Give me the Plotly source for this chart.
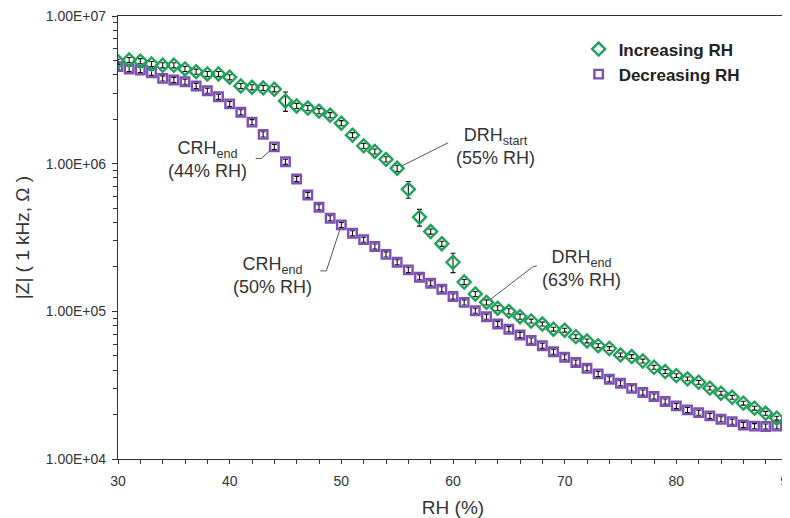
import plotly.graph_objects as go

# ---- data ----
rh = list(range(30, 91))

inc_z = [4.9e6, 5.04e6, 4.95e6, 4.73e6, 4.64e6, 4.64e6, 4.38e6, 4.2e6, 4.05e6, 4.05e6,
         3.85e6, 3.36e6, 3.29e6, 3.26e6, 3.19e6, 2.66e6, 2.46e6, 2.38e6, 2.27e6, 2.13e6,
         1.88e6, 1.56e6, 1.32e6, 1.21e6, 1.07e6, 9.3e5, 6.7e5, 4.34e5, 3.47e5, 2.87e5,
         2.15e5, 1.58e5, 1.31e5, 1.15e5, 1.05e5, 1.0e5, 9.2e4, 8.6e4, 8.2e4, 7.57e4,
         7.45e4, 6.74e4, 6.3e4, 5.85e4, 5.6e4, 5.07e4, 4.94e4, 4.61e4, 4.18e4, 3.91e4,
         3.67e4, 3.49e4, 3.31e4, 3.02e4, 2.79e4, 2.62e4, 2.39e4, 2.21e4, 2.04e4, 1.89e4,
         1.84e4]

dec_z = [4.54e6, 4.38e6, 4.31e6, 4.13e6, 3.78e6, 3.69e6, 3.59e6, 3.36e6, 3.12e6, 2.84e6,
         2.54e6, 2.23e6, 1.91e6, 1.58e6, 1.30e6, 1.03e6, 7.87e5, 6.14e5, 5.07e5, 4.27e5,
         3.85e5, 3.38e5, 3.06e5, 2.75e5, 2.43e5, 2.15e5, 1.91e5, 1.70e5, 1.55e5, 1.41e5,
         1.26e5, 1.15e5, 1.01e5, 9.2e4, 8.2e4, 7.57e4, 6.92e4, 6.34e4, 5.85e4, 5.33e4,
         4.89e4, 4.5e4, 4.12e4, 3.77e4, 3.47e4, 3.26e4, 3.01e4, 2.82e4, 2.65e4, 2.45e4,
         2.29e4, 2.15e4, 2.06e4, 1.96e4, 1.86e4, 1.79e4, 1.70e4, 1.67e4, 1.66e4, 1.67e4,
         1.70e4]

# error bar sizes, percent of value
inc_err_pct = [4, 4, 4, 4, 4, 4, 4, 4, 4, 4,
               4, 4, 4, 4, 4, 15, 4, 4, 4, 4,
               4, 4, 4, 4, 4, 5, 13, 13, 4, 4,
               15, 4, 4, 4, 4, 4, 4, 3, 3, 3,
               3, 3, 3, 3, 3, 3, 3, 3, 3, 3,
               3, 3, 3, 3, 3, 3, 3, 3, 3, 3,
               3]
dec_err_pct = [4] * 61

y_tickvals = [1e4, 1e5, 1e6, 1e7]
y_ticktext = ["1.00E+04", "1.00E+05", "1.00E+06", "1.00E+07"]
x_tickvals = [30, 40, 50, 60, 70, 80, 90]

inc_err = [v * p / 100 for v, p in zip(inc_z, inc_err_pct)]
dec_err = [v * p / 100 for v, p in zip(dec_z, dec_err_pct)]

GREEN = "#22a15a"
PURPLE = "#7d4eb6"
TXT = "#333333"
FONT = "Liberation Sans, Arial, sans-serif"

fig = go.Figure()
fig.add_trace(go.Scatter(
    x=rh, y=dec_z, mode="markers", name="Decreasing RH",
    marker=dict(symbol="square-open", size=8.5, color=PURPLE, line=dict(width=2.4, color=PURPLE)),
    error_y=dict(type="data", array=dec_err, color="#111111", thickness=1.1, width=2.5),
    legendrank=2,
))
fig.add_trace(go.Scatter(
    x=rh, y=inc_z, mode="markers", name="Increasing RH",
    marker=dict(symbol="diamond-open", size=10, color=GREEN, line=dict(width=2.4, color=GREEN)),
    error_y=dict(type="data", array=inc_err, color="#111111", thickness=1.1, width=2.5),
    legendrank=1,
))

# leader lines, anchored at the data points, drawn in pixel offsets
def leader(xv, yv, path):
    return dict(type="path", xref="x", yref="y", xsizemode="pixel", ysizemode="pixel",
                xanchor=xv, yanchor=yv, path=path, line=dict(color="#555555", width=1))

shapes = [
    leader(44, dec_z[rh.index(44)], "M -4.5,-4 L -13,-11.6 L -18.7,-11.6"),
    leader(55, inc_z[rh.index(55)], "M 5,2.5 L 51,25.6"),
    leader(50, dec_z[rh.index(50)], "M -1.5,-4.8 L -15,-46 L -21,-46"),
    leader(63, inc_z[rh.index(63)], "M 4,3 L 46,35.3 L 50.4,36.6"),
]

ann_font = dict(family=FONT, size=18, color=TXT)
annotations = [
    dict(text="CRH<sub>end</sub><br>(44% RH)", x=0.1336, y=0.675),
    dict(text="DRH<sub>start</sub><br>(55% RH)", x=0.5627, y=0.7065),
    dict(text="CRH<sub>end</sub><br>(50% RH)", x=0.2299, y=0.4153),
    dict(text="DRH<sub>end</sub><br>(63% RH)", x=0.6925, y=0.4289),
]
for a in annotations:
    a.update(xref="paper", yref="paper", showarrow=False, font=ann_font,
             align="center", xanchor="center", yanchor="middle")

axis_common = dict(showgrid=False, zeroline=False, linecolor="#333333", linewidth=1.2,
                   tickcolor="#333333", tickwidth=1, automargin=False)

# the page body adds an 8px offset, so the figure is 782x510
fig.update_layout(
    width=782, height=510,
    margin=dict(l=110, r=2, t=8, b=59, autoexpand=False),
    paper_bgcolor="white", plot_bgcolor="white",
    font=dict(family=FONT, color=TXT),
    showlegend=True,
    legend=dict(x=0.6875, y=0.965, xanchor="left", yanchor="top",
                bgcolor="rgba(0,0,0,0)", itemwidth=30, tracegroupgap=0,
                font=dict(family=FONT, size=17, color="#222222", weight="bold")),
    xaxis=dict(range=[30, 90], tickvals=x_tickvals, ticks="outside", ticklen=4,
               minor=dict(dtick=2, ticks="outside", ticklen=4, tickcolor="#333333", showgrid=False),
               mirror=True, tickfont=dict(size=14, color=TXT), ticklabeloverflow="allow",
               ticklabelstandoff=5,
               title=dict(text="RH (%)", font=dict(size=19, color=TXT), standoff=13),
               **axis_common),
    yaxis=dict(type="log", range=[4, 7], tickvals=y_tickvals, ticktext=y_ticktext,
               ticks="outside", ticklen=5,
               minor=dict(dtick="D1", ticks="outside", ticklen=4, tickcolor="#333333", showgrid=False),
               mirror=True, tickfont=dict(size=14, color=TXT), ticklabeloverflow="allow",
               ticklabelstandoff=3,
               title=dict(text="|Z| ( 1 kHz, Ω )", font=dict(size=19, color=TXT), standoff=11),
               **axis_common),
    xaxis2=dict(overlaying="x", range=[30, 90], tickvals=x_tickvals, ticks="inside", ticklen=4,
                minor=dict(dtick=2, ticks="inside", ticklen=4, tickcolor="#333333", showgrid=False),
                showticklabels=False, showline=False, anchor="y", side="bottom", automargin=False,
                showgrid=False, zeroline=False, tickcolor="#333333"),
    yaxis2=dict(overlaying="y", type="log", range=[4, 7], tickvals=y_tickvals, ticks="inside", ticklen=5,
                minor=dict(dtick="D1", ticks="inside", ticklen=4, tickcolor="#333333", showgrid=False),
                showticklabels=False, showline=False, anchor="x", side="left", automargin=False,
                showgrid=False, zeroline=False, tickcolor="#333333"),
    shapes=shapes,
    annotations=annotations,
)

fig.write_html("out.html")
